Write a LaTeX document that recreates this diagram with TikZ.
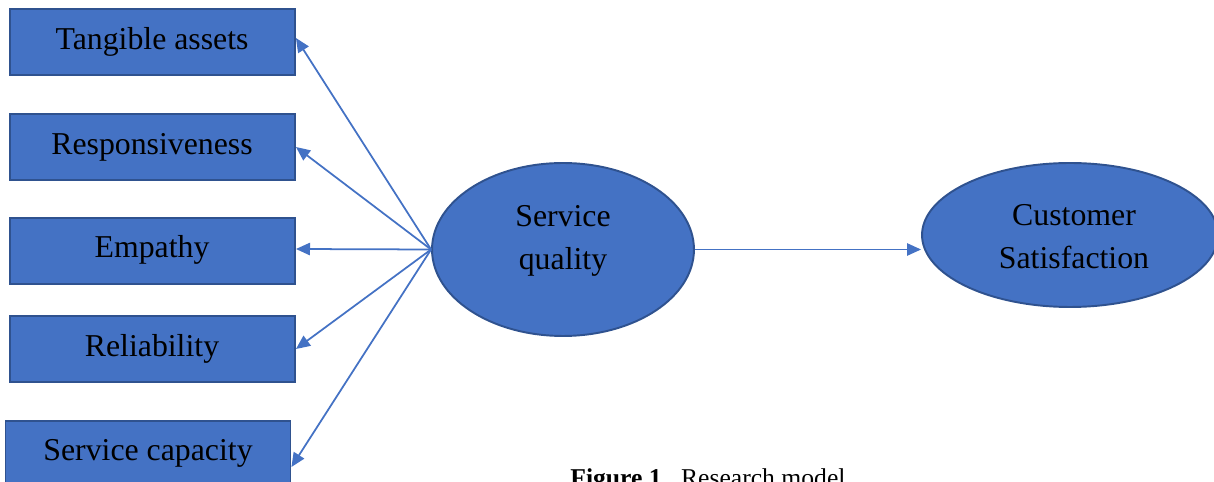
\documentclass[tikz,border=0pt]{standalone}
\usepackage{fontspec}
\setmainfont{Liberation Serif}
\usetikzlibrary{shapes.geometric,arrows.meta}
\definecolor{boxfill}{HTML}{4472C4}
\definecolor{boxedge}{HTML}{2F528F}
\begin{document}
\begin{tikzpicture}[x=0.02cm,y=-0.02cm,
  dimbox/.style={draw=boxedge,fill=boxfill,line width=1.1pt,minimum width=5.7cm,minimum height=1.32cm,inner sep=0pt},
  construct/.style={draw=boxedge,fill=boxfill,line width=1.1pt,ellipse,inner sep=0pt},
  lbl/.style={font=\fontsize{18.1}{24.5}\selectfont,align=center,inner sep=0pt},
  link/.style={draw=boxfill,line width=1pt,-{Triangle[length=8pt,width=7pt]}}]
\useasboundingbox (0,0) rectangle (1214,482);
% dimension boxes
\node[dimbox] (tg) at (152.5,42) {};
\node[lbl] (tgt) at (152,42) {Tangible assets};
\node[dimbox] (rs) at (152.5,147) {};
\node[lbl] (rst) at (152,147) {Responsiveness};
\node[dimbox] (em) at (152.5,251) {};
\node[lbl] (emt) at (152,250) {Empathy};
\node[dimbox] (rl) at (152.5,349) {};
\node[lbl] (rlt) at (152,349) {Reliability};
\node[dimbox] (sc) at (148,454) {};
\node[lbl] (sct) at (148,453) {Service capacity};
% constructs
\node[construct,minimum width=5.24cm,minimum height=3.46cm] (sq) at (563,249.5) {};
\node[lbl] (sqt) at (563,241) {Service\\quality};
\node[construct,minimum width=5.92cm,minimum height=2.88cm] (cs) at (1070,235) {};
\node[lbl] (cst) at (1074,237) {Customer\\Satisfaction};
% connectors
\coordinate (hub) at (sq.west);
\draw[link] (hub) -- ([yshift=0.08cm]tg.east);
\draw[link] (hub) -- (rs.east);
\draw[link] (hub) -- ([yshift=0.04cm]em.east);
\draw[link] (hub) -- (rl.east);
\draw[link] (hub) -- ([yshift=-0.26cm]sc.east);
\draw[link] (sq.east) -- (cs.west |- sq.east);
% caption
\node[anchor=base west,inner sep=0pt,font=\fontsize{14.6}{17}\selectfont] (cap) at (570,487) {\textbf{Figure 1.}\ \ Research model};
\end{tikzpicture}
\end{document}
